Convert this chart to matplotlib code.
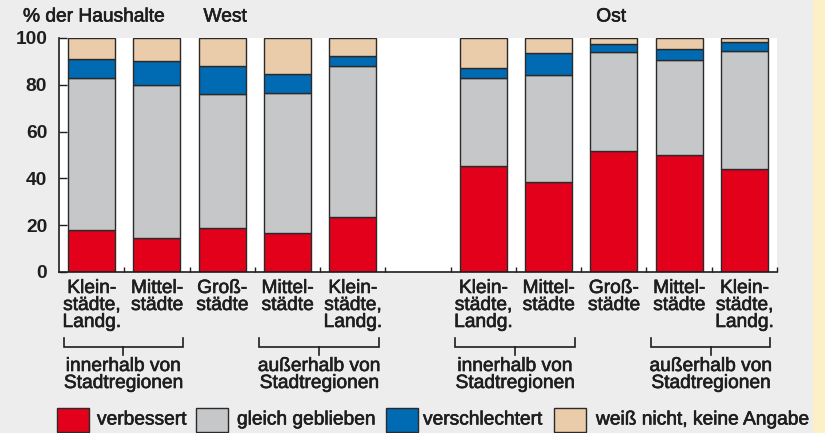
import numpy as np
import matplotlib.pyplot as plt
import matplotlib.patheffects as pe

plt.rcParams['font.family'] = ['Liberation Sans', 'DejaVu Sans']

# Anteile in % der Haushalte, je Bar: West (5) und Ost (5)
categories = ['Klein-\nstädte,\nLandg.', 'Mittel-\nstädte', 'Groß-\nstädte',
              'Mittel-\nstädte', 'Klein-\nstädte,\nLandg.']
regions = ['West', 'Ost']

verbessert_west = [18, 14.5, 19, 16.5, 23.5]
gleich_west = [65, 65.5, 57, 60, 64.5]
schlechter_west = [8, 10, 12, 8, 4.5]
weiss_nicht_west = [9, 10, 12, 15.5, 7.5]

verbessert_ost = [45.5, 38.5, 51.5, 50, 44]
gleich_ost = [37.5, 45.5, 42.5, 40.5, 50.5]
schlechter_ost = [4, 9.5, 3.5, 5, 4]
weiss_nicht_ost = [13, 6.5, 2.5, 4.5, 1.5]

series_labels = ['verbessert', 'gleich geblieben', 'verschlechtert',
                 'weiß nicht, keine Angabe']
colors = ['#E2001A', '#C6C7C9', '#006AB3', '#EACBAA']
group_labels = ['innerhalb von\nStadtregionen', 'außerhalb von\nStadtregionen']

W, H = 825, 433
bg = '#EDEDED'
ink = '#1E1E1E'
fs = 13.8
heavy = [pe.withStroke(linewidth=0.45, foreground=ink)]


def fx(px):
    return px / W


def fy(py):
    return 1 - py / H


def label(obj, **kw):
    return obj.text(*kw.pop('pos'), kw.pop('s'), fontsize=fs, color=ink,
                    path_effects=heavy, **kw)


fig = plt.figure(figsize=(W / 100, H / 100), dpi=100, facecolor=bg)
# gelber Randstreifen rechts
fig.patches.append(plt.Rectangle((fx(813), 0), fx(825) - fx(813), 1,
                                 transform=fig.transFigure, color='#FDEFC6',
                                 zorder=0))

ax = fig.add_axes([fx(59), fy(272), fx(777) - fx(59), fy(38) - fy(272)])
ax.set_facecolor('white')

west = np.array([verbessert_west, gleich_west, schlechter_west, weiss_nicht_west])
ost = np.array([verbessert_ost, gleich_ost, schlechter_ost, weiss_nicht_ost])
data = np.hstack([west, ost])
x = np.concatenate([np.arange(5) + 0.5, np.arange(6, 11) + 0.5])

bottom = np.zeros(data.shape[1])
for vals, c in zip(data, colors):
    ax.bar(x, vals, width=0.72, bottom=bottom, color=c, edgecolor='#2A2A2A',
           linewidth=1.0, zorder=2)
    bottom += vals

ax.set_xlim(0, 11)
ax.set_ylim(0, 100)
ax.set_yticks([0, 20, 40, 60, 80, 100])
ax.set_xticks(np.arange(1, 12))
ax.set_xticklabels([])
ax.tick_params(axis='y', direction='in', length=6, width=1, colors=ink,
               labelsize=fs, pad=8.5)
ax.tick_params(axis='x', direction='in', length=3.6, width=1, colors=ink)
for lab in ax.get_yticklabels():
    lab.set_fontweight('bold')
for s in ['top', 'right']:
    ax.spines[s].set_visible(False)
for s in ['left', 'bottom']:
    ax.spines[s].set_color(ink)
    ax.spines[s].set_linewidth(1.2)

trans = ax.get_xaxis_transform()
ax_h = 234.0

# Kategorienbeschriftung unter den Balken
for xi, lab in zip(x, categories * 2):
    label(ax, pos=(xi, -8 / ax_h), s=lab, transform=trans, ha='center',
          va='top', linespacing=1.0, multialignment='center')

# Klammern für innerhalb / außerhalb von Stadtregionen
for start in [0, 3, 6, 9]:
    x0, x1 = start + 0.07, start + 1.9
    xc = (x0 + x1) / 2
    y_top, y_mid, y_low = -66 / ax_h, -75 / ax_h, -83 / ax_h
    ax.plot([x0, x0, x1, x1], [y_top, y_mid, y_mid, y_top], transform=trans,
            color=ink, lw=1.2, clip_on=False, solid_joinstyle='miter')
    ax.plot([xc, xc], [y_mid, y_low], transform=trans, color=ink, lw=1.2,
            clip_on=False)
    g = group_labels[0] if start in (0, 6) else group_labels[1]
    label(ax, pos=(xc, -86 / ax_h), s=g, transform=trans, ha='center',
          va='top', linespacing=1.0)

# Kopfzeile
label(fig, pos=(fx(23), fy(17)), s='% der Haushalte', ha='left', va='center')
label(fig, pos=(fx(225), fy(17)), s=regions[0], ha='center', va='center')
label(fig, pos=(fx(611), fy(17)), s=regions[1], ha='center', va='center')

# Legende
box_x = [57, 196, 386, 554]
text_x = [97, 237, 423, 596]
for bx, tx, lab, c in zip(box_x, text_x, series_labels, colors):
    fig.patches.append(plt.Rectangle((fx(bx), fy(432)), fx(32), fy(408) - fy(432),
                                     transform=fig.transFigure, facecolor=c,
                                     edgecolor='#2A2A2A', linewidth=1.0))
    label(fig, pos=(fx(tx), fy(420)), s=lab, ha='left', va='center')

fig.savefig('out.png', dpi=100, facecolor=bg)
